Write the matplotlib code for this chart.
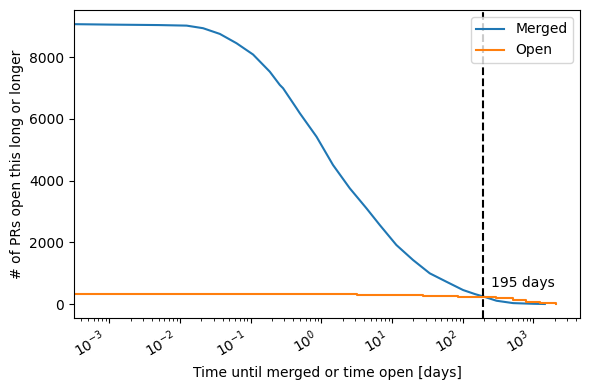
import matplotlib
matplotlib.use("Agg")
import matplotlib.pyplot as plt

# merged PRs: time (days) vs number still open at least that long
merged_days = [2e-4, 1e-3, 5e-3, 0.0124, 0.0212, 0.0366, 0.063, 0.108,
               0.186, 0.258, 0.287, 0.445, 0.494, 0.853, 1.46, 2.52, 4.34,
               6.70, 11.5, 19.8, 34.1, 58.7, 101, 150, 195, 300, 514, 1000,
               1450]
merged_count = [9080, 9060, 9045, 9027, 8943, 8758, 8456, 8090,
                7535, 7104, 6997, 6348, 6190, 5426, 4508, 3753, 3104,
                2562, 1914, 1427, 996, 723, 454, 320, 245, 107, 30, 8,
                1]

# open PRs: age (days) vs number open at least that long
open_days = [2e-4, 3.2, 27, 86, 195, 300, 510, 795, 1227, 2113]
open_count = [334, 302, 270, 240, 228, 185, 130, 75, 23, 5]

cutoff = 195

fig, ax = plt.subplots(figsize=(5.9, 3.9), dpi=100)
ax.plot(merged_days, merged_count, label="Merged")
ax.plot(open_days, open_count, drawstyle="steps-post", label="Open")
ax.axvline(cutoff, color="k", ls="--")
ax.text(250, 560, f"{cutoff} days")
ax.set_xscale("log")
ax.set_xlim(10**-3.5, 10**3.658)
ax.set_xlabel("Time until merged or time open [days]")
ax.set_ylabel("# of PRs open this long or longer")
ax.legend(loc="upper right")
fig.autofmt_xdate()
fig.subplots_adjust(left=0.1254, right=0.983, top=0.9744, bottom=0.1846)
fig.savefig("out.png")
